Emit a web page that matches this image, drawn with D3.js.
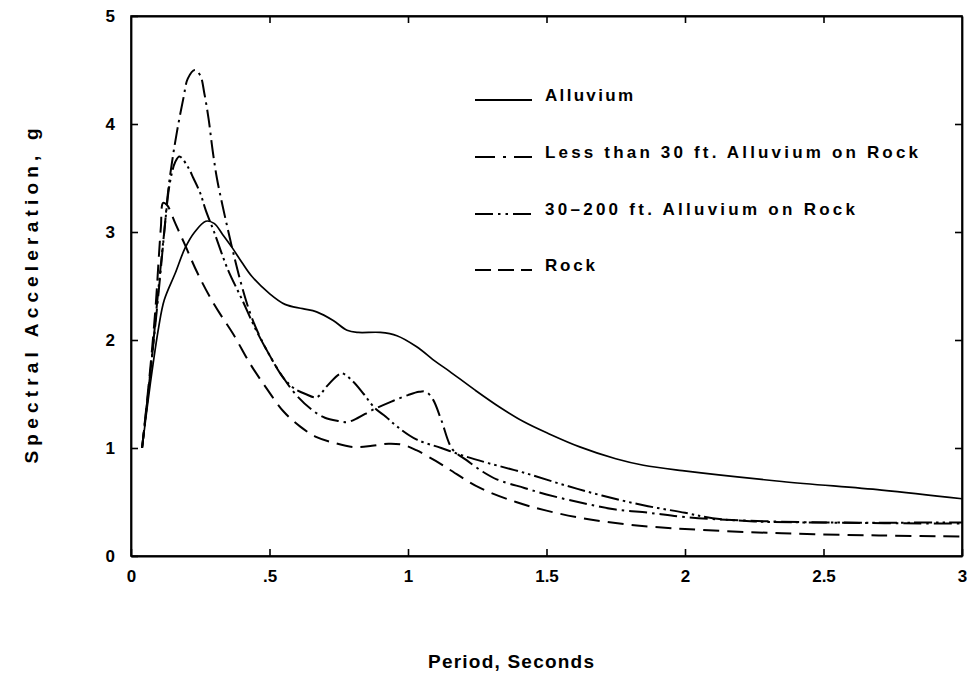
<!DOCTYPE html>
<html>
<head>
<meta charset="utf-8">
<script src="https://cdn.jsdelivr.net/npm/d3@7"></script>
<style>
  body { margin: 0; background: #fff; }
  text { font-family: "Liberation Sans", Arial, Helvetica, sans-serif; font-weight: bold; fill: #000; }
</style>
</head>
<body>
<svg id="chart" width="967" height="679"></svg>
<script>
// Axis ticks and labels
const xTicks = [0, 0.5, 1, 1.5, 2, 2.5, 3];
const xTickLabels = ["0", ".5", "1", "1.5", "2", "2.5", "3"];
const yTicks = [0, 1, 2, 3, 4, 5];
const yTickLabels = ["0", "1", "2", "3", "4", "5"];

const seriesNames = [
  "Alluvium",
  "Less than 30 ft. Alluvium on Rock",
  "30–200 ft. Alluvium on Rock",
  "Rock"
];

// Spectral acceleration (g) against period (s)
const alluvium = [
  [0.04, 1.0], [0.07, 1.6], [0.10, 2.12], [0.12, 2.37], [0.16, 2.62], [0.195, 2.85],
  [0.23, 3.0], [0.27, 3.1], [0.30, 3.08], [0.33, 2.98], [0.364, 2.86], [0.40, 2.72],
  [0.436, 2.59], [0.50, 2.43], [0.556, 2.33], [0.62, 2.29], [0.67, 2.26], [0.73, 2.18],
  [0.78, 2.09], [0.82, 2.07], [0.90, 2.07], [0.96, 2.04], [1.03, 1.94], [1.10, 1.8],
  [1.15, 1.71], [1.24, 1.54], [1.33, 1.38], [1.42, 1.24], [1.51, 1.13], [1.62, 1.01],
  [1.75, 0.9], [1.85, 0.84], [1.99, 0.79], [2.35, 0.69], [2.71, 0.61], [3.0, 0.53]
];

const lessThan30 = [
  [0.04, 1.0], [0.07, 1.7], [0.10, 2.45], [0.12, 3.0], [0.135, 3.4], [0.15, 3.68],
  [0.166, 3.93], [0.19, 4.25], [0.205, 4.42], [0.23, 4.5], [0.25, 4.45], [0.265, 4.28],
  [0.28, 4.05], [0.295, 3.75], [0.31, 3.5], [0.33, 3.25], [0.35, 3.02], [0.37, 2.8],
  [0.40, 2.5], [0.43, 2.25], [0.46, 2.06], [0.50, 1.86], [0.55, 1.65], [0.60, 1.48],
  [0.66, 1.34], [0.70, 1.28], [0.75, 1.25], [0.78, 1.24], [0.82, 1.28], [0.87, 1.35],
  [0.94, 1.43], [1.00, 1.49], [1.04, 1.52], [1.065, 1.52], [1.09, 1.45], [1.12, 1.26],
  [1.16, 0.99], [1.21, 0.89], [1.27, 0.78], [1.32, 0.71], [1.42, 0.63], [1.50, 0.57],
  [1.63, 0.49], [1.75, 0.43], [1.87, 0.4], [2.0, 0.36], [2.2, 0.33], [2.5, 0.31], [3.0, 0.3]
];

const thirtyTo200 = [
  [0.04, 1.0], [0.07, 1.7], [0.10, 2.5], [0.12, 3.0], [0.14, 3.45], [0.16, 3.65],
  [0.175, 3.7], [0.206, 3.6], [0.225, 3.5], [0.25, 3.36], [0.27, 3.2], [0.30, 3.0],
  [0.35, 2.65], [0.40, 2.38], [0.45, 2.1], [0.50, 1.86], [0.55, 1.65], [0.59, 1.55],
  [0.63, 1.5], [0.67, 1.47], [0.71, 1.58], [0.76, 1.69], [0.80, 1.62], [0.84, 1.5],
  [0.88, 1.37], [0.92, 1.29], [0.96, 1.2], [1.03, 1.08], [1.12, 1.0], [1.21, 0.92],
  [1.29, 0.86], [1.42, 0.77], [1.56, 0.66], [1.70, 0.56], [1.85, 0.47], [2.0, 0.4],
  [2.1, 0.35], [2.25, 0.32], [2.5, 0.31], [3.0, 0.31]
];

const rock = [
  [0.04, 1.0], [0.07, 1.75], [0.09, 2.35], [0.10, 2.75], [0.108, 3.05], [0.116, 3.27],
  [0.13, 3.25], [0.16, 3.08], [0.195, 2.88], [0.24, 2.62], [0.30, 2.33], [0.37, 2.05],
  [0.43, 1.78], [0.49, 1.55], [0.55, 1.34], [0.61, 1.2], [0.67, 1.1], [0.73, 1.05],
  [0.80, 1.01], [0.87, 1.02], [0.93, 1.04], [0.98, 1.03], [1.03, 0.98], [1.10, 0.88],
  [1.15, 0.8], [1.26, 0.63], [1.39, 0.5], [1.50, 0.42], [1.63, 0.35], [1.80, 0.29],
  [2.0, 0.25], [2.35, 0.21], [2.7, 0.19], [3.0, 0.18]
];

const seriesData = [alluvium, lessThan30, thirtyTo200, rock];

// Line styles: plot dashes and legend-sample dashes
const plotDash = [null, "18,5,2.5,5", "18,4,2.5,4,2.5,4", "16,8"];
const legendDash = [null, "20,8,3,8", "18,5,2.5,5,2.5,5", "16,7"];

const svg = d3.select("#chart");
const x = d3.scaleLinear().domain([0, 3]).range([131, 962]);
const y = d3.scaleLinear().domain([0, 5]).range([556, 16]);

// Frame
svg.append("rect")
  .attr("x", x(0)).attr("y", y(5))
  .attr("width", x(3) - x(0)).attr("height", y(0) - y(5))
  .attr("fill", "none").attr("stroke", "#000").attr("stroke-width", 1.6);

// Inward ticks on all four sides
const tickLen = 7;
const bottomAxis = d3.axisBottom(x).tickValues(xTicks).tickSizeInner(-tickLen).tickSizeOuter(0)
  .tickFormat((d, i) => xTickLabels[i]).tickPadding(14);
const topAxis = d3.axisTop(x).tickValues(xTicks.slice(1, -1)).tickSizeInner(-tickLen).tickSizeOuter(0).tickFormat("");
const leftAxis = d3.axisLeft(y).tickValues(yTicks).tickSizeInner(-tickLen).tickSizeOuter(0)
  .tickFormat((d, i) => yTickLabels[i]).tickPadding(16);
const rightAxis = d3.axisRight(y).tickValues(yTicks.slice(1, -1)).tickSizeInner(-tickLen).tickSizeOuter(0).tickFormat("");

function styleAxis(g) {
  g.select(".domain").attr("stroke", "#000").attr("stroke-width", 1.8);
  g.selectAll(".tick line").attr("stroke", "#000").attr("stroke-width", 1.6);
  g.selectAll(".tick text").style("font-size", "17px").attr("fill", "#000")
    .style("font-family", '"Liberation Sans", Arial, sans-serif').style("font-weight", "bold");
}
svg.append("g").attr("transform", `translate(0,${y(0)})`).call(bottomAxis).call(styleAxis);
svg.append("g").attr("transform", `translate(0,${y(5)})`).call(topAxis).call(styleAxis);
svg.append("g").attr("transform", `translate(${x(0)},0)`).call(leftAxis).call(styleAxis);
svg.append("g").attr("transform", `translate(${x(3)},0)`).call(rightAxis).call(styleAxis);

// Curves
const line = d3.line().x(d => x(d[0])).y(d => y(d[1])).curve(d3.curveCatmullRom.alpha(0.5));
seriesData.forEach((data, i) => {
  svg.append("path")
    .datum(data)
    .attr("d", line)
    .attr("fill", "none")
    .attr("stroke", "#000")
    .attr("stroke-width", i === 0 ? 1.7 : 2)
    .attr("stroke-dasharray", plotDash[i]);
});

// Legend
const legendRows = [101, 158, 215, 271];
const legendWidths = [88, 373, 310, 50];
const legend = svg.append("g");
seriesNames.forEach((name, i) => {
  legend.append("line")
    .attr("x1", 475).attr("x2", 532)
    .attr("y1", legendRows[i] - 1).attr("y2", legendRows[i] - 1)
    .attr("stroke", "#000").attr("stroke-width", 1.8)
    .attr("stroke-dasharray", legendDash[i]);
  legend.append("text")
    .attr("x", 545).attr("y", legendRows[i])
    .attr("textLength", legendWidths[i]).attr("lengthAdjust", "spacing")
    .style("font-size", "17px")
    .text(name);
});

// Axis titles
svg.append("text")
  .attr("x", 511).attr("y", 668)
  .attr("text-anchor", "middle")
  .attr("textLength", 166).attr("lengthAdjust", "spacing")
  .style("font-size", "19px")
  .text("Period, Seconds");

svg.append("text")
  .attr("transform", "translate(38,296) rotate(-90)")
  .attr("text-anchor", "middle")
  .attr("textLength", 335).attr("lengthAdjust", "spacing")
  .style("font-size", "19px")
  .text("Spectral Acceleration, g");
</script>
</body>
</html>
